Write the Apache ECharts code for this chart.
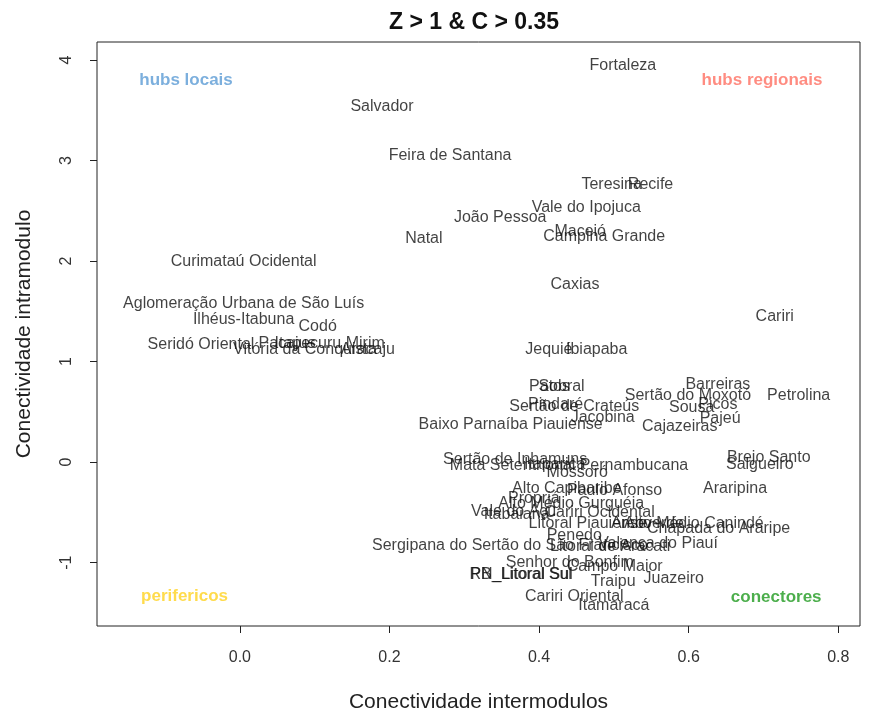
<!DOCTYPE html>
<html>
<head>
<meta charset="utf-8">
<script src="https://cdn.jsdelivr.net/npm/echarts@6/dist/echarts.min.js"></script>
<style>
html,body{margin:0;padding:0;background:#fff;}
#chart{width:869px;height:718px;}
</style>
</head>
<body>
<div id="chart"></div>
<script>
// ---- data ----
const names = [
  "Fortaleza","Salvador","Feira de Santana","Teresina","Recife","Vale do Ipojuca","João Pessoa","Natal","Maceió","Campina Grande",
  "Curimataú Ocidental","Caxias","Cariri","Aglomeração Urbana de São Luís","Ilhéus-Itabuna","Codó","Seridó Oriental","Pacajus","Itapecuru Mirim","Vitória da Conquista",
  "Aracaju","Jequié","Ibiapaba","Barreiras","Petrolina","Sertão do Moxotó","Patos","Sobral","Sertão de Crateús","Pindaré",
  "Picos","Sousa","Jacobina","Pajeú","Cajazeiras","Baixo Parnaíba Piauiense","Brejo Santo","Salgueiro","Sertão de Inhamuns","Mata Setentrional Pernambucana",
  "Itaparica","Mossoró","Araripina","Alto Capibaribe","Paulo Afonso","Propriá","Alto Médio Gurguéia","Vale do Açu","Itabaiana","Cariri Ocidental",
  "Litoral Piauiense","Arcoverde","Alto Médio Canindé","Chapada do Araripe","Penedo","Sergipana do Sertão do São Francisco","Litoral de Aracati","Valença do Piauí","Senhor do Bonfim","Campo Maior",
  "PB_Litoral Sul","RN_Litoral Sul","Traipu","Juazeiro","Cariri Oriental","Itamaracá"
];
const intermodulos = [
  0.512,0.190,0.281,0.497,0.549,0.463,0.348,0.246,0.455,0.487,
  0.005,0.448,0.715,0.005,0.005,0.104,-0.052,0.063,0.120,0.087,
  0.171,0.413,0.477,0.639,0.747,0.599,0.414,0.430,0.447,0.422,
  0.639,0.604,0.485,0.642,0.588,0.362,0.707,0.695,0.368,0.440,
  0.421,0.451,0.662,0.437,0.501,0.393,0.443,0.366,0.370,0.481,
  0.465,0.545,0.607,0.640,0.447,0.361,0.495,0.559,0.441,0.501,
  0.376,0.376,0.499,0.580,0.447,0.500
];
const intramodulo = [
  3.95,3.54,3.05,2.76,2.76,2.53,2.43,2.22,2.29,2.24,
  2.00,1.77,1.45,1.58,1.42,1.35,1.17,1.18,1.18,1.12,
  1.12,1.12,1.12,0.77,0.66,0.66,0.75,0.75,0.55,0.57,
  0.57,0.54,0.44,0.43,0.35,0.37,0.05,-0.02,0.03,-0.03,
  -0.02,-0.10,-0.26,-0.26,-0.28,-0.36,-0.41,-0.49,-0.52,-0.50,
  -0.61,-0.61,-0.61,-0.66,-0.73,-0.83,-0.84,-0.81,-1.00,-1.04,
  -1.12,-1.12,-1.19,-1.16,-1.34,-1.43
];
const quadNames = ["hubs locais","hubs regionais","perifericos","conectores"];
const quadX = [-0.072, 0.698, -0.074, 0.717];
const quadY = [3.80, 3.80, -1.33, -1.34];
const xTicks = [0, 0.2, 0.4, 0.6, 0.8];
const yTicks = [-1, 0, 1, 2, 3, 4];

// ---- styles ----
const quadColors = ["#5b9bd5","#ff6f61","#ffd21f","#1f9a1f"];
const FONT = "Liberation Sans, Arial, sans-serif";

const chart = echarts.init(document.getElementById('chart'), null, {renderer:'canvas'});
const pts = names.map((n,i)=>({name:n, value:[intermodulos[i], intramodulo[i]]}));
const quads = quadNames.map((n,i)=>({name:n, value:[quadX[i], quadY[i]],
  label:{color:quadColors[i]}}));

chart.setOption({
  animation:false,
  backgroundColor:'#fff',
  title:{text:'Z > 1 & C > 0.35', left:469, top:6, textAlign:'center',
    textStyle:{fontFamily:FONT, fontWeight:'bold', fontSize:23, color:'#111'}},
  grid:{left:97, right:9, top:42, bottom:82, show:true, borderColor:'#222', borderWidth:1, backgroundColor:'transparent'},
  xAxis:{type:'value', min:-0.191, max:0.829,
    name:'Conectividade intermodulos', nameLocation:'middle', nameGap:66,
    nameTextStyle:{fontFamily:FONT, fontSize:21, color:'#222'},
    axisLine:{show:false, onZero:false}, splitLine:{show:false},
    axisTick:{show:true, inside:false, length:7, lineStyle:{color:'#222'}, customValues:xTicks},
    axisLabel:{fontFamily:FONT, fontSize:16, color:'#333', margin:24, customValues:xTicks,
      formatter:v=>v.toFixed(1)}},
  yAxis:{type:'value', min:-1.63, max:4.18,
    name:'Conectividade intramodulo', nameLocation:'middle', nameGap:62, nameRotate:90,
    nameTextStyle:{fontFamily:FONT, fontSize:21, color:'#222'},
    axisLine:{show:false, onZero:false}, splitLine:{show:false},
    axisTick:{show:true, inside:false, length:7, lineStyle:{color:'#222'}, customValues:yTicks},
    axisLabel:{fontFamily:FONT, fontSize:16, color:'#333', margin:22, rotate:90, customValues:yTicks,
      formatter:v=>String(Math.round(v))}},
  series:[
    {type:'scatter', data:pts, symbolSize:0.01, itemStyle:{color:'rgba(0,0,0,0)'},
      label:{show:true, position:'inside', formatter:'{b}', fontFamily:FONT, fontSize:16, color:'#111'},
      labelLayout:{hideOverlap:false}, silent:true},
    {type:'scatter', data:quads, symbolSize:0.01, itemStyle:{color:'rgba(0,0,0,0)'},
      label:{show:true, position:'inside', formatter:'{b}', fontFamily:FONT, fontSize:17, fontWeight:'bold'},
      silent:true}
  ]
});
</script>
</body>
</html>
